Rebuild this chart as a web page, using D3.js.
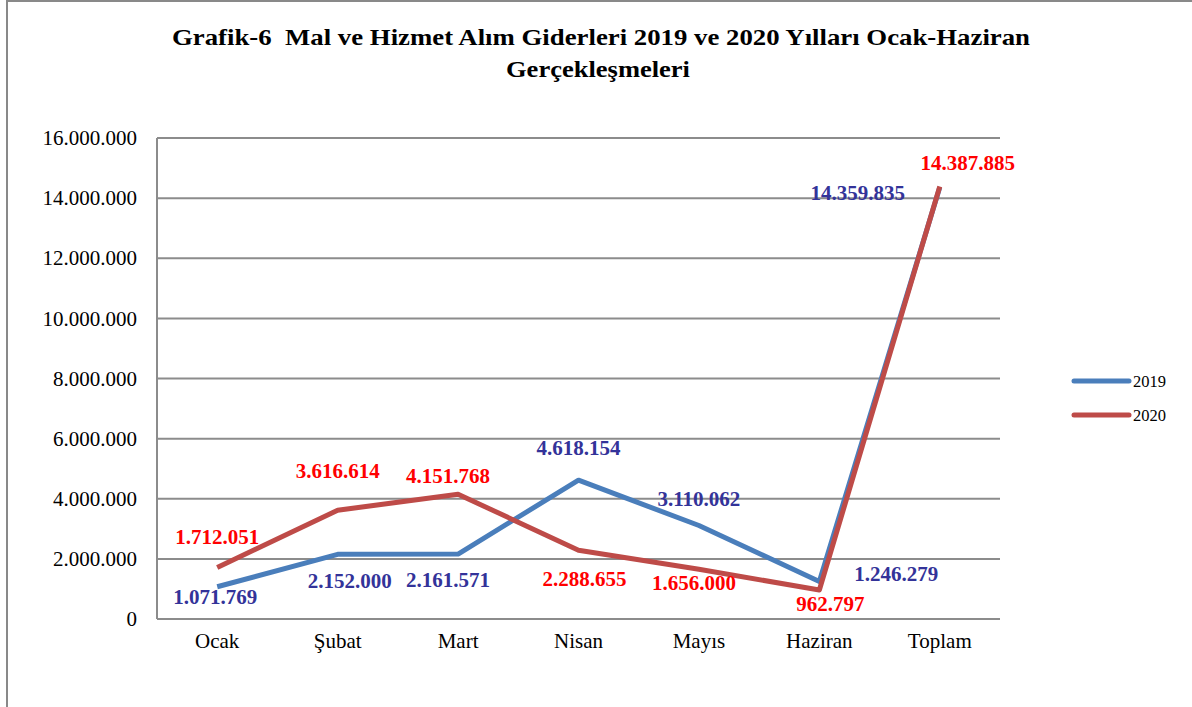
<!DOCTYPE html>
<html>
  <head>
    <style>
      body { margin: 0; background: #fff; }
      svg { font-family: "Liberation Serif", "Times New Roman", serif; }
    </style>
  </head>
  <body>
    <svg></svg>
    <script src="https://d3js.org/d3.v7.min.js"></script>
    <script>
      var months = ["Ocak", "Şubat", "Mart", "Nisan", "Mayıs", "Haziran", "Toplam"];
      var values2019 = [1071769, 2152000, 2161571, 4618154, 3110062, 1246279, 14359835];
      var values2020 = [1712051, 3616614, 4151768, 2288655, 1656000, 962797, 14387885];
      var yTicks = [0, 2000000, 4000000, 6000000, 8000000, 10000000, 12000000, 14000000, 16000000];

      // label offsets from the point (dx, dy to text centre)
      var pos2019 = [[-2, 10], [12, 26], [-10, 26], [0, -33], [0, -27], [77, -8], [-82, 5]];
      var pos2020 = [[0, -31], [0, -40], [-10, -19], [6, 28], [-5, 13], [11, 14], [28, -24]];

      var svgWidth = 1192, svgHeight = 707;
      var margin = { top: 138, right: 192, bottom: 88, left: 157 };
      var width = svgWidth - margin.left - margin.right;
      var height = svgHeight - margin.top - margin.bottom;

      var svg = d3.select("svg")
        .attr("width", svgWidth)
        .attr("height", svgHeight);

      svg.append("rect")
        .attr("x", 7).attr("y", 1)
        .attr("width", 1200).attr("height", 720)
        .attr("fill", "none")
        .attr("stroke", "#898989")
        .attr("stroke-width", 2);

      var title = svg.append("text")
        .attr("text-anchor", "middle")
        .attr("font-weight", "bold")
        .attr("font-size", 23)
        .attr("fill", "#000");
      title.append("tspan").attr("x", 601).attr("y", 45)
        .attr("xml:space", "preserve")
        .attr("textLength", 858)
        .attr("lengthAdjust", "spacingAndGlyphs")
        .text("Grafik-6  Mal ve Hizmet Alım Giderleri 2019 ve 2020 Yılları Ocak-Haziran");
      title.append("tspan").attr("x", 598).attr("y", 77)
        .attr("textLength", 184)
        .attr("lengthAdjust", "spacingAndGlyphs")
        .text("Gerçekleşmeleri");

      var g = svg.append("g")
        .attr("transform", "translate(" + margin.left + "," + margin.top + ")");

      var x = d3.scaleBand().domain(months).range([0, width]);
      var y = d3.scaleLinear().domain([0, 16000000]).range([height, 0]);
      var fmt = d => d3.format(",")(d).replace(/,/g, ".");

      // gridlines
      g.append("g")
        .selectAll("line")
        .data(yTicks)
        .join("line")
        .attr("x1", 0).attr("x2", width)
        .attr("y1", d => y(d)).attr("y2", d => y(d))
        .attr("stroke", "#8c8c8c")
        .attr("stroke-width", 2);

      g.append("line")
        .attr("x1", 0).attr("x2", 0)
        .attr("y1", 0).attr("y2", height)
        .attr("stroke", "#8c8c8c")
        .attr("stroke-width", 2);

      var yAxis = g.append("g")
        .call(d3.axisLeft(y).tickValues(yTicks).tickFormat(d => d === 0 ? "0" : fmt(d)).tickSize(0).tickPadding(20));
      yAxis.select(".domain").remove();
      yAxis.selectAll("text")
        .attr("font-family", "Liberation Serif, Times New Roman, serif")
        .attr("font-size", 21)
        .attr("fill", "#000");

      var xAxis = g.append("g")
        .attr("transform", "translate(0," + height + ")")
        .call(d3.axisBottom(x).tickSize(0).tickPadding(14));
      xAxis.select(".domain").remove();
      xAxis.selectAll("text")
        .attr("font-family", "Liberation Serif, Times New Roman, serif")
        .attr("font-size", 21)
        .attr("fill", "#000");

      var line = d3.line()
        .x((d, i) => x(months[i]) + x.bandwidth() / 2)
        .y(d => y(d));

      var series = [
        { name: "2019", values: values2019, color: "#4a7ebb", label: "#333399", pos: pos2019 },
        { name: "2020", values: values2020, color: "#be4b48", label: "#ff0000", pos: pos2020 }
      ];

      series.forEach(s => {
        g.append("path")
          .attr("d", line(s.values))
          .attr("fill", "none")
          .attr("stroke", s.color)
          .attr("stroke-width", 5)
          .attr("stroke-linejoin", "round");
      });

      series.forEach(s => {
        g.append("g")
          .selectAll("text")
          .data(s.values)
          .join("text")
          .attr("x", (d, i) => x(months[i]) + x.bandwidth() / 2 + s.pos[i][0])
          .attr("y", (d, i) => y(d) + s.pos[i][1])
          .attr("dy", "0.35em")
          .attr("text-anchor", "middle")
          .attr("font-weight", "bold")
          .attr("font-size", 21)
          .attr("fill", s.label)
          .text(d => fmt(d));
      });

      // legend
      var legend = svg.append("g")
        .attr("transform", "translate(1074,381)");
      series.forEach((s, i) => {
        var row = legend.append("g").attr("transform", "translate(0," + (i * 34) + ")");
        row.append("line")
          .attr("x1", 0).attr("x2", 55)
          .attr("stroke", s.color)
          .attr("stroke-width", 5)
          .attr("stroke-linecap", "round");
        row.append("text")
          .attr("x", 59)
          .attr("dy", "0.35em")
          .attr("font-size", 16.5)
          .attr("fill", "#000")
          .text(s.name);
      });
    </script>
  </body>
</html>
